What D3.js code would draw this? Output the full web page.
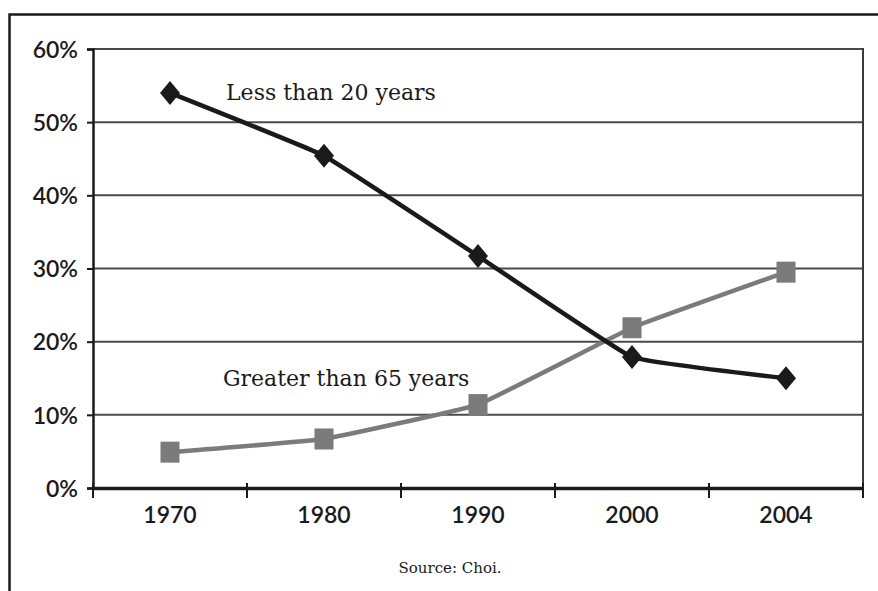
<!DOCTYPE html>
<html>
<head>
<meta charset="utf-8">
<title>Age composition</title>
<style>
  body { margin: 0; background: white; }
  svg { display: block; }
</style>
<script src="https://cdn.jsdelivr.net/npm/d3@7"></script>
</head>
<body>
<script>
  // data
  let years = ["1970", "1980", "1990", "2000", "2004"]
  let under20 = [54.0, 45.4, 31.7, 17.9, 15.0]
  let over65 = [4.9, 6.7, 11.4, 21.9, 29.5]
  let yTicks = [0, 10, 20, 30, 40, 50, 60]

  let width = 878
  let height = 591
  let plotLeft = 93, plotRight = 863, plotTop = 49, plotBottom = 488

  let svg = d3.select("body").append("svg")
      .attr("width", width)
      .attr("height", height)

  // outer frame (left and top edges only)
  svg.append("path")
      .attr("d", `M9.5,${height} V14.5 H${width}`)
      .attr("fill", "none")
      .attr("stroke", "#1a1a1a")
      .attr("stroke-width", 2.5)

  let x = d3.scaleBand().domain(years).range([plotLeft, plotRight])
  let y = d3.scaleLinear().domain([0, 60]).range([plotBottom, plotTop])

  // horizontal grid
  svg.append("g")
      .selectAll("line")
      .data(yTicks.filter(d => d > 0))
      .enter()
      .append("line")
      .attr("x1", plotLeft)
      .attr("x2", plotRight)
      .attr("y1", d => y(d))
      .attr("y2", d => y(d))
      .attr("stroke", "#4a4a4a")
      .attr("stroke-width", 2)

  // right border of plot
  svg.append("line")
      .attr("x1", plotRight).attr("x2", plotRight)
      .attr("y1", plotTop - 1).attr("y2", plotBottom + 10)
      .attr("stroke", "#3a3a3a")
      .attr("stroke-width", 2)

  let tickFont = "Lato, 'DejaVu Sans', sans-serif"

  // y axis
  let yAxis = svg.append("g")
      .attr("transform", `translate(${plotLeft},0)`)
      .call(d3.axisLeft(y).tickValues(yTicks).tickSize(6).tickPadding(9).tickFormat(d => d + "%"))
  yAxis.select(".domain").attr("stroke", "#1a1a1a").attr("stroke-width", 2.5)
  yAxis.selectAll(".tick line").attr("stroke", "#1a1a1a").attr("stroke-width", 2)
  yAxis.selectAll("text")
      .attr("font-family", tickFont)
      .attr("font-size", 23)
      .attr("font-weight", 600)
      .attr("fill", "#1a1a1a")
      .attr("dy", "0.36em")

  // x axis
  let xAxis = svg.append("g")
      .attr("transform", `translate(0,${plotBottom})`)
      .call(d3.axisBottom(x).tickSize(0).tickPadding(19))
  xAxis.select(".domain").attr("stroke", "#1a1a1a").attr("stroke-width", 3.5)
  xAxis.selectAll("text")
      .attr("font-family", tickFont)
      .attr("font-size", 23)
      .attr("font-weight", 600)
      .attr("fill", "#1a1a1a")

  // category boundary ticks
  let bounds = years.map(d => x(d)).concat([plotRight])
  svg.append("g")
      .selectAll("line")
      .data(bounds)
      .enter()
      .append("line")
      .attr("x1", d => d).attr("x2", d => d)
      .attr("y1", plotBottom - 5).attr("y2", plotBottom + 10)
      .attr("stroke", "#1a1a1a")
      .attr("stroke-width", 2)

  let cx = d => x(d) + x.bandwidth() / 2
  let line = d3.line()
      .x((d, i) => cx(years[i]))
      .y(d => y(d))
      .curve(d3.curveCardinal.tension(0.75))

  // over 65 series
  svg.append("path")
      .attr("d", line(over65))
      .attr("fill", "none")
      .attr("stroke", "#7b7b7b")
      .attr("stroke-width", 4.5)
  svg.append("g")
      .selectAll("rect")
      .data(over65)
      .enter()
      .append("rect")
      .attr("x", (d, i) => cx(years[i]) - 9.5)
      .attr("y", d => y(d) - 10.5)
      .attr("width", 19)
      .attr("height", 21)
      .attr("fill", "#7b7b7b")

  // under 20 series
  svg.append("path")
      .attr("d", line(under20))
      .attr("fill", "none")
      .attr("stroke", "#1a1a1a")
      .attr("stroke-width", 4.5)
  svg.append("g")
      .selectAll("path")
      .data(under20)
      .enter()
      .append("path")
      .attr("transform", (d, i) => `translate(${cx(years[i])},${y(d)})`)
      .attr("d", "M0,-12 L10,0 L0,12 L-10,0 Z")
      .attr("fill", "#1a1a1a")

  let serif = "'DejaVu Serif', 'Liberation Serif', serif"

  // series labels
  svg.append("text")
      .attr("x", 226).attr("y", 100)
      .attr("font-family", serif)
      .attr("font-size", 22)
      .attr("fill", "#1a1a1a")
      .text("Less than 20 years")

  svg.append("text")
      .attr("x", 223).attr("y", 386)
      .attr("font-family", serif)
      .attr("font-size", 22)
      .attr("fill", "#1a1a1a")
      .text("Greater than 65 years")

  svg.append("text")
      .attr("x", 450).attr("y", 573)
      .attr("text-anchor", "middle")
      .attr("font-family", serif)
      .attr("font-size", 15)
      .attr("fill", "#1a1a1a")
      .text("Source: Choi.")
</script>
</body>
</html>
